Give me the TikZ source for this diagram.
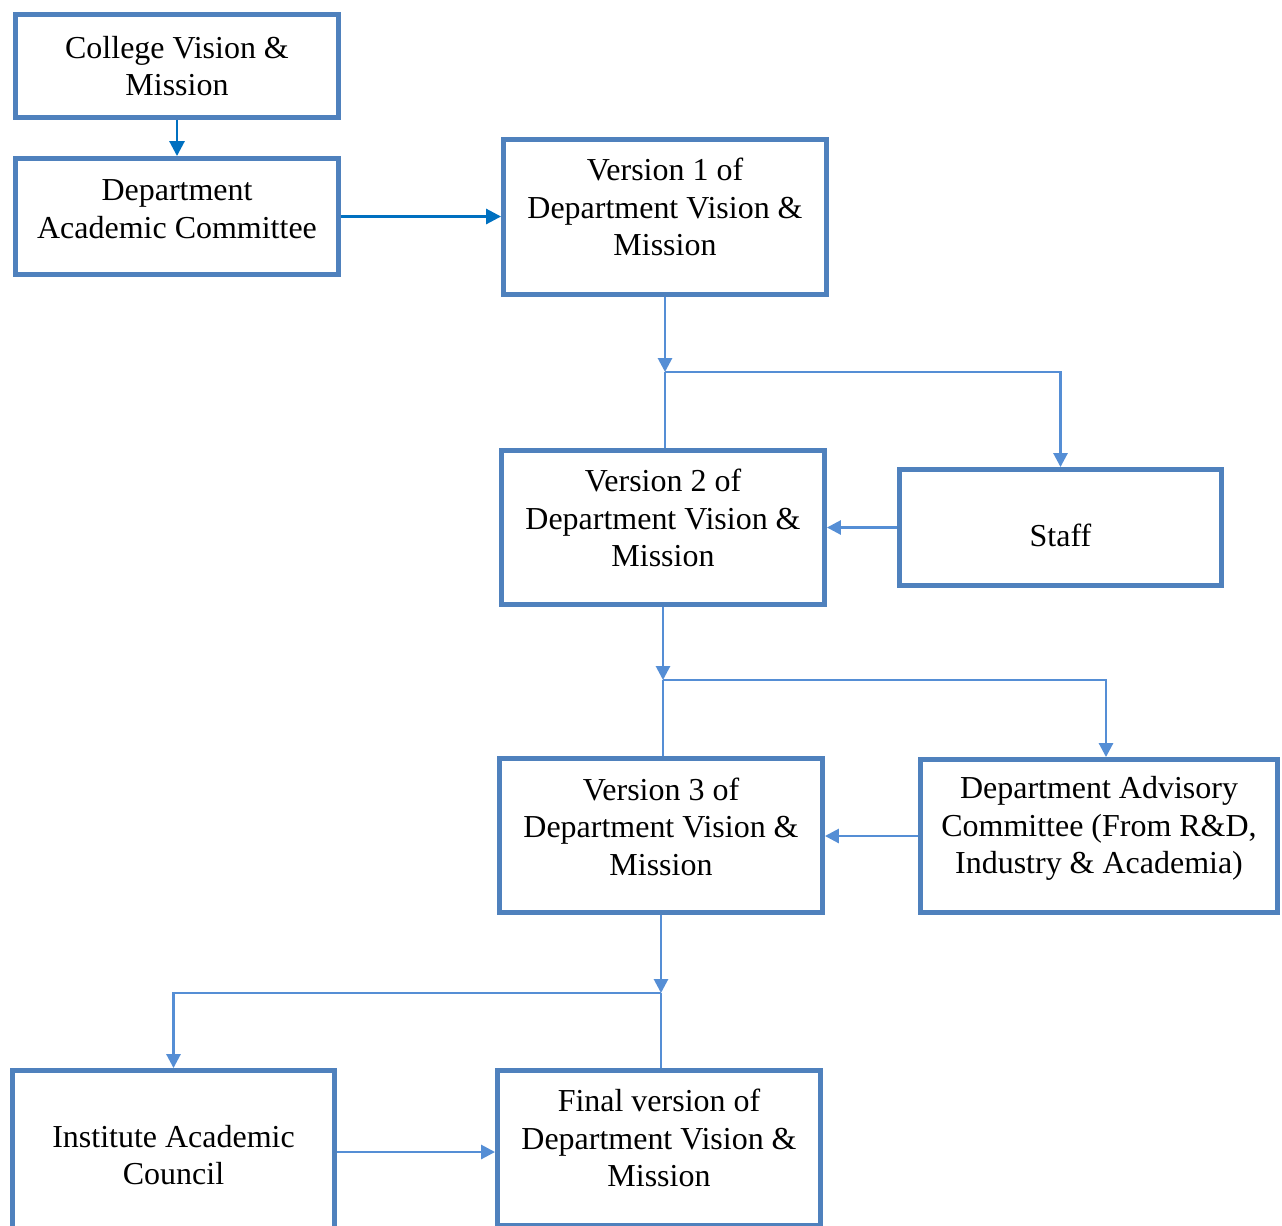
\documentclass[tikz,border=0pt]{standalone}
\usepackage{fontspec}
\setmainfont{Liberation Serif}
\usepackage{tikz}
\usetikzlibrary{positioning, arrows.meta}
\definecolor{box_edge}{HTML}{4F81BD}
\definecolor{link_line}{HTML}{558ED5}
\definecolor{link_dark}{HTML}{0070C0}

\begin{document}
\begin{tikzpicture}[
    x=0.02cm, y=-0.02cm,
    % stili per i riquadri
    block/.style = {
        draw=box_edge,
        line width=2.8pt,
        align=center,
        inner sep=0,
        minimum width=6.46cm,
        font=\fontsize{18.2}{21.3}\selectfont
    },
    % sposta il testo in alto nel riquadro
    lift/.style = {text depth=#1},
    % stili per le frecce
    link/.style = {
        draw=link_line,
        line width=1.6pt,
        -{Triangle[length=0.28cm, width=0.28cm]}
    },
    plain_link/.style = {
        draw=link_line,
        line width=1.6pt
    },
    dark_link/.style = {
        draw=link_dark,
        line width=1.6pt,
        -{Triangle[length=0.3cm, width=0.3cm]}
    }
]
\useasboundingbox (0,0) rectangle (1282,1225);

% 1. Riquadri
\node[block, minimum height=2.06cm] (college) at (177,66) {College Vision \&\\Mission};
\node[block, minimum height=2.32cm, lift=0.3cm] (dac) at (177,216.5) {Department\\Academic Committee};
\node[block, minimum height=3.1cm, lift=0.4cm] (v1) at (665,217) {Version 1 of\\Department Vision \&\\Mission};
\node[block, minimum height=3.08cm, lift=0.38cm] (v2) at (663,527.5) {Version 2 of\\Department Vision \&\\Mission};
\node[block, minimum width=6.44cm, minimum height=2.32cm, text height=0.76cm, text depth=0] (staff) at (1060.5,527.5) {Staff};
\node[block, minimum height=3.08cm, lift=0.36cm] (v3) at (661,835.5) {Version 3 of\\Department Vision \&\\Mission};
\node[block, minimum width=7.14cm, minimum height=3.06cm, lift=0.44cm] (adv) at (1099,836) {Department Advisory\\Committee (From R\&D,\\Industry \& Academia)};
\node[block, minimum width=6.44cm, minimum height=3.38cm] (iac) at (173.5,1155) {Institute Academic\\Council};
\node[block, minimum height=3.1cm, lift=0.4cm] (fin) at (659,1148) {Final version of\\Department Vision \&\\Mission};

% 2. Punti di diramazione
\coordinate (j1) at (v1.south |- 0,372);
\coordinate (j2) at (v2.south |- 0,680);
\coordinate (j3) at (v3.south |- 0,993);

% 3. Frecce
\draw[dark_link] (college.south) -- (dac.north);
\draw[dark_link] (dac.east) -- (dac.east -| v1.west);

\draw[link] (v1.south) -- (j1);
\draw[plain_link] (j1) -- (j1 |- v2.north);
\draw[link] (j1) -| (staff.north);
\draw[link] (staff.west) -- (v2.east);

\draw[link] (v2.south) -- (j2);
\draw[plain_link] (j2) -- (j2 |- v3.north);
\draw[link] (j2) -| ([xshift=0.14cm]adv.north);
\draw[link] (adv.west) -- (adv.west -| v3.east);

\draw[link] (v3.south) -- (j3);
\draw[plain_link] (j3) -- (j3 |- fin.north);
\draw[link] (j3) -| (iac.north);
\draw[link] ([yshift=0.06cm]iac.east) -- ([yshift=0.06cm]iac.east -| fin.west);

\end{tikzpicture}
\end{document}
